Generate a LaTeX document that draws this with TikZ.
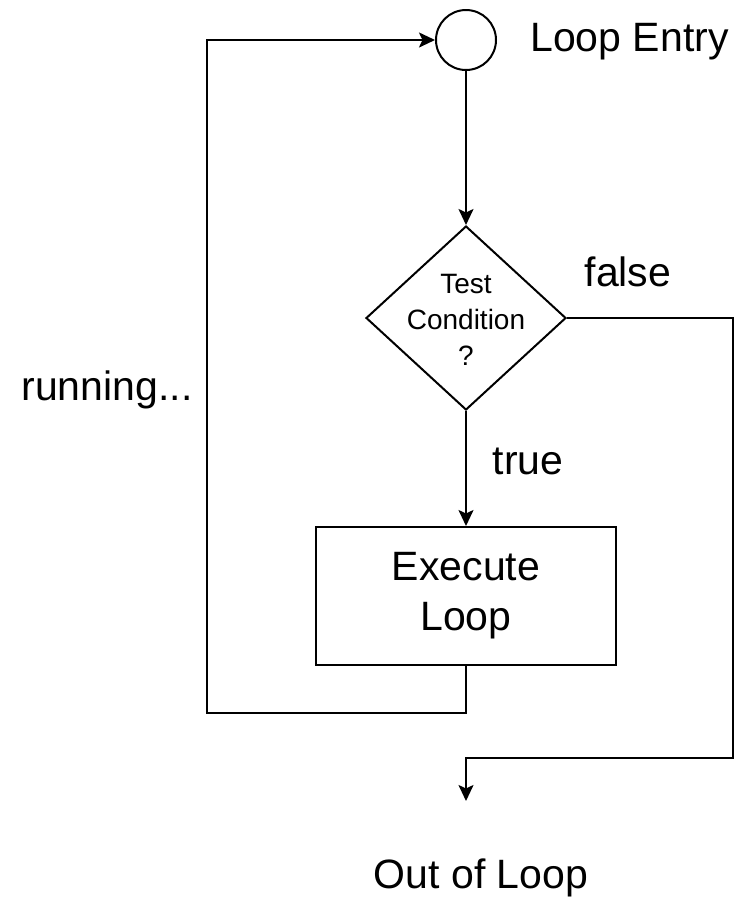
\documentclass[tikz,border=0pt]{standalone}
\usepackage{fontspec}
\setmainfont{Liberation Sans}
\usetikzlibrary{shapes.geometric,arrows.meta}
\begin{document}
\begin{tikzpicture}[x=1pt,y=-1pt,
  line width=2pt,
  big/.style={font=\fontsize{41}{50}\selectfont},
  small/.style={font=\fontsize{28}{36}\selectfont},
  arr/.style={-{Stealth[length=16pt,width=15pt,inset=3.5pt]}},
  box/.style={draw,rectangle,minimum width=300pt,minimum height=138pt,align=center,big}]
\useasboundingbox (0,0) rectangle (741,898);
\node[circle,draw,minimum size=60pt,inner sep=0pt] (entry) at (466,40) {};
\node[big,anchor=west] (entrylbl) at (526,42) {Loop Entry};
\node[diamond,draw,minimum width=200pt,minimum height=184pt,inner sep=0pt] (test) at (466,318) {};
\node[small,align=center] (testlbl) at (466,320) {Test\\Condition\\?};
\node[box] (exec) at (466,596) {Execute\\Loop};
\coordinate (out) at (466,801);
\coordinate (fr) at (733,758);
\coordinate (lb) at (207,713);
\node[big] (outlbl) at (481,878) {Out of Loop};
\node[big] (falselbl) at (628,272) {false};
\node[big] (truelbl) at (528,461) {true};
\node[big] (runlbl) at (107,390) {running...};
\draw[arr] (entry) -- (test.north);
\draw[arr] (test.south) -- (exec.north);
\draw[arr] (test.east) -| (fr) -| (out);
\draw[arr] (exec.south) |- (lb) |- (entry.west);
\end{tikzpicture}
\end{document}
